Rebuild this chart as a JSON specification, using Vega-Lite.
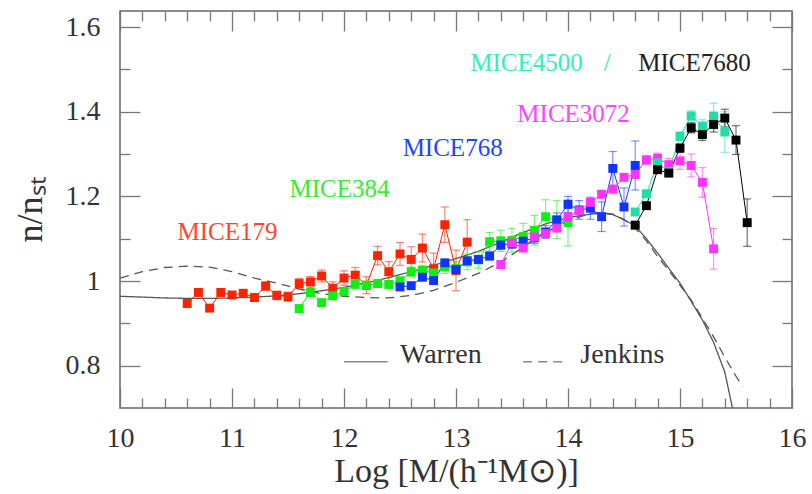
{
  "$schema": "https://vega.github.io/schema/vega-lite/v6.json",
  "autosize": {"type": "none"},
  "padding": {"left": 120, "top": 11, "right": 20, "bottom": 86},
  "width": 672,
  "height": 397,
  "background": "white",
  "config": {
    "view": {"stroke": "#666", "strokeWidth": 1.5},
    "font": "Liberation Serif",
    "axis": {"domain": false, "grid": false, "labelFont": "Liberation Serif", "titleFont": "Liberation Serif", "labelFontSize": 28, "titleFontSize": 34, "labelColor": "#333", "titleColor": "#333", "titleFontWeight": "normal", "tickColor": "#777", "tickWidth": 1.3, "zindex": 1}
  },
  "datasets": {
    "pts": [
      {"s": "MICE179", "x": 10.6, "y": 0.947, "e": 0.007},
      {"s": "MICE179", "x": 10.7, "y": 0.973, "e": 0.007},
      {"s": "MICE179", "x": 10.8, "y": 0.936, "e": 0.007},
      {"s": "MICE179", "x": 10.9, "y": 0.973, "e": 0.008},
      {"s": "MICE179", "x": 11.0, "y": 0.967, "e": 0.008},
      {"s": "MICE179", "x": 11.1, "y": 0.971, "e": 0.008},
      {"s": "MICE179", "x": 11.2, "y": 0.961, "e": 0.009},
      {"s": "MICE179", "x": 11.3, "y": 0.988, "e": 0.010},
      {"s": "MICE179", "x": 11.4, "y": 0.966, "e": 0.010},
      {"s": "MICE179", "x": 11.5, "y": 0.963, "e": 0.011},
      {"s": "MICE179", "x": 11.6, "y": 0.994, "e": 0.012},
      {"s": "MICE179", "x": 11.7, "y": 0.998, "e": 0.013},
      {"s": "MICE179", "x": 11.8, "y": 1.012, "e": 0.014},
      {"s": "MICE179", "x": 11.9, "y": 0.983, "e": 0.015},
      {"s": "MICE179", "x": 12.0, "y": 1.007, "e": 0.017},
      {"s": "MICE179", "x": 12.1, "y": 1.014, "e": 0.018},
      {"s": "MICE179", "x": 12.2, "y": 0.990, "e": 0.020},
      {"s": "MICE179", "x": 12.3, "y": 1.060, "e": 0.022},
      {"s": "MICE179", "x": 12.4, "y": 1.022, "e": 0.024},
      {"s": "MICE179", "x": 12.5, "y": 1.064, "e": 0.027},
      {"s": "MICE179", "x": 12.6, "y": 1.051, "e": 0.030},
      {"s": "MICE179", "x": 12.7, "y": 1.078, "e": 0.033},
      {"s": "MICE179", "x": 12.8, "y": 1.029, "e": 0.037},
      {"s": "MICE179", "x": 12.9, "y": 1.133, "e": 0.042},
      {"s": "MICE179", "x": 13.0, "y": 1.025, "e": 0.048},
      {"s": "MICE179", "x": 13.1, "y": 1.092, "e": 0.053},
      {"s": "MICE384", "x": 11.6, "y": 0.935, "e": 0.004},
      {"s": "MICE384", "x": 11.7, "y": 0.973, "e": 0.004},
      {"s": "MICE384", "x": 11.8, "y": 0.949, "e": 0.005},
      {"s": "MICE384", "x": 11.9, "y": 0.965, "e": 0.005},
      {"s": "MICE384", "x": 12.0, "y": 0.975, "e": 0.006},
      {"s": "MICE384", "x": 12.1, "y": 0.992, "e": 0.006},
      {"s": "MICE384", "x": 12.2, "y": 0.990, "e": 0.007},
      {"s": "MICE384", "x": 12.3, "y": 0.994, "e": 0.008},
      {"s": "MICE384", "x": 12.4, "y": 0.992, "e": 0.009},
      {"s": "MICE384", "x": 12.5, "y": 1.000, "e": 0.010},
      {"s": "MICE384", "x": 12.6, "y": 1.022, "e": 0.011},
      {"s": "MICE384", "x": 12.7, "y": 1.025, "e": 0.012},
      {"s": "MICE384", "x": 12.8, "y": 1.019, "e": 0.013},
      {"s": "MICE384", "x": 12.9, "y": 1.033, "e": 0.015},
      {"s": "MICE384", "x": 13.0, "y": 1.030, "e": 0.016},
      {"s": "MICE384", "x": 13.1, "y": 1.045, "e": 0.018},
      {"s": "MICE384", "x": 13.2, "y": 1.050, "e": 0.020},
      {"s": "MICE384", "x": 13.3, "y": 1.093, "e": 0.022},
      {"s": "MICE384", "x": 13.4, "y": 1.095, "e": 0.025},
      {"s": "MICE384", "x": 13.5, "y": 1.096, "e": 0.028},
      {"s": "MICE384", "x": 13.6, "y": 1.105, "e": 0.031},
      {"s": "MICE384", "x": 13.7, "y": 1.120, "e": 0.035},
      {"s": "MICE384", "x": 13.8, "y": 1.152, "e": 0.040},
      {"s": "MICE384", "x": 13.9, "y": 1.145, "e": 0.045},
      {"s": "MICE384", "x": 14.0, "y": 1.138, "e": 0.055},
      {"s": "MICE768", "x": 12.5, "y": 0.986, "e": 0.004},
      {"s": "MICE768", "x": 12.6, "y": 0.989, "e": 0.004},
      {"s": "MICE768", "x": 12.7, "y": 1.009, "e": 0.005},
      {"s": "MICE768", "x": 12.8, "y": 1.001, "e": 0.005},
      {"s": "MICE768", "x": 12.9, "y": 1.043, "e": 0.006},
      {"s": "MICE768", "x": 13.0, "y": 1.027, "e": 0.006},
      {"s": "MICE768", "x": 13.1, "y": 1.048, "e": 0.007},
      {"s": "MICE768", "x": 13.2, "y": 1.051, "e": 0.008},
      {"s": "MICE768", "x": 13.3, "y": 1.059, "e": 0.009},
      {"s": "MICE768", "x": 13.4, "y": 1.085, "e": 0.010},
      {"s": "MICE768", "x": 13.5, "y": 1.088, "e": 0.011},
      {"s": "MICE768", "x": 13.6, "y": 1.094, "e": 0.012},
      {"s": "MICE768", "x": 13.7, "y": 1.102, "e": 0.013},
      {"s": "MICE768", "x": 13.8, "y": 1.116, "e": 0.015},
      {"s": "MICE768", "x": 13.9, "y": 1.144, "e": 0.017},
      {"s": "MICE768", "x": 14.0, "y": 1.181, "e": 0.019},
      {"s": "MICE768", "x": 14.1, "y": 1.168, "e": 0.022},
      {"s": "MICE768", "x": 14.2, "y": 1.172, "e": 0.026},
      {"s": "MICE768", "x": 14.3, "y": 1.152, "e": 0.035},
      {"s": "MICE768", "x": 14.4, "y": 1.266, "e": 0.040},
      {"s": "MICE768", "x": 14.5, "y": 1.175, "e": 0.045},
      {"s": "MICE768", "x": 14.6, "y": 1.273, "e": 0.058},
      {"s": "MICE3072", "x": 13.4, "y": 1.039, "e": 0.004},
      {"s": "MICE3072", "x": 13.5, "y": 1.090, "e": 0.004},
      {"s": "MICE3072", "x": 13.6, "y": 1.078, "e": 0.004},
      {"s": "MICE3072", "x": 13.7, "y": 1.104, "e": 0.005},
      {"s": "MICE3072", "x": 13.8, "y": 1.112, "e": 0.005},
      {"s": "MICE3072", "x": 13.9, "y": 1.125, "e": 0.005},
      {"s": "MICE3072", "x": 14.0, "y": 1.152, "e": 0.006},
      {"s": "MICE3072", "x": 14.1, "y": 1.166, "e": 0.006},
      {"s": "MICE3072", "x": 14.2, "y": 1.186, "e": 0.007},
      {"s": "MICE3072", "x": 14.3, "y": 1.205, "e": 0.007},
      {"s": "MICE3072", "x": 14.4, "y": 1.217, "e": 0.008},
      {"s": "MICE3072", "x": 14.5, "y": 1.245, "e": 0.008},
      {"s": "MICE3072", "x": 14.6, "y": 1.252, "e": 0.009},
      {"s": "MICE3072", "x": 14.7, "y": 1.286, "e": 0.010},
      {"s": "MICE3072", "x": 14.8, "y": 1.290, "e": 0.012},
      {"s": "MICE3072", "x": 14.9, "y": 1.275, "e": 0.015},
      {"s": "MICE3072", "x": 15.0, "y": 1.284, "e": 0.020},
      {"s": "MICE3072", "x": 15.1, "y": 1.273, "e": 0.027},
      {"s": "MICE3072", "x": 15.2, "y": 1.233, "e": 0.035},
      {"s": "MICE3072", "x": 15.3, "y": 1.076, "e": 0.048},
      {"s": "MICE4500", "x": 14.6, "y": 1.163, "e": 0.005},
      {"s": "MICE4500", "x": 14.7, "y": 1.206, "e": 0.006},
      {"s": "MICE4500", "x": 14.8, "y": 1.279, "e": 0.008},
      {"s": "MICE4500", "x": 14.9, "y": 1.259, "e": 0.008},
      {"s": "MICE4500", "x": 15.0, "y": 1.342, "e": 0.010},
      {"s": "MICE4500", "x": 15.1, "y": 1.390, "e": 0.012},
      {"s": "MICE4500", "x": 15.2, "y": 1.366, "e": 0.015},
      {"s": "MICE4500", "x": 15.3, "y": 1.390, "e": 0.030},
      {"s": "MICE4500", "x": 15.4, "y": 1.352, "e": 0.048},
      {"s": "MICE7680", "x": 14.6, "y": 1.132, "e": 0.004},
      {"s": "MICE7680", "x": 14.7, "y": 1.178, "e": 0.005},
      {"s": "MICE7680", "x": 14.8, "y": 1.263, "e": 0.006},
      {"s": "MICE7680", "x": 14.9, "y": 1.255, "e": 0.008},
      {"s": "MICE7680", "x": 15.0, "y": 1.314, "e": 0.010},
      {"s": "MICE7680", "x": 15.1, "y": 1.362, "e": 0.012},
      {"s": "MICE7680", "x": 15.2, "y": 1.346, "e": 0.014},
      {"s": "MICE7680", "x": 15.3, "y": 1.370, "e": 0.018},
      {"s": "MICE7680", "x": 15.4, "y": 1.385, "e": 0.021},
      {"s": "MICE7680", "x": 15.5, "y": 1.333, "e": 0.034},
      {"s": "MICE7680", "x": 15.6, "y": 1.138, "e": 0.056}
    ],
    "curves": [
      {"m": "Warren", "x": 10.0, "y": 0.964}, {"m": "Warren", "x": 10.2, "y": 0.962}, {"m": "Warren", "x": 10.4, "y": 0.960},
      {"m": "Warren", "x": 10.6, "y": 0.959}, {"m": "Warren", "x": 10.8, "y": 0.959}, {"m": "Warren", "x": 11.0, "y": 0.960},
      {"m": "Warren", "x": 11.2, "y": 0.962}, {"m": "Warren", "x": 11.4, "y": 0.965}, {"m": "Warren", "x": 11.6, "y": 0.970},
      {"m": "Warren", "x": 11.8, "y": 0.977}, {"m": "Warren", "x": 12.0, "y": 0.985}, {"m": "Warren", "x": 12.2, "y": 0.996},
      {"m": "Warren", "x": 12.4, "y": 1.008}, {"m": "Warren", "x": 12.6, "y": 1.022}, {"m": "Warren", "x": 12.8, "y": 1.037},
      {"m": "Warren", "x": 13.0, "y": 1.053}, {"m": "Warren", "x": 13.2, "y": 1.070}, {"m": "Warren", "x": 13.4, "y": 1.092},
      {"m": "Warren", "x": 13.6, "y": 1.115}, {"m": "Warren", "x": 13.8, "y": 1.135}, {"m": "Warren", "x": 14.0, "y": 1.150},
      {"m": "Warren", "x": 14.2, "y": 1.158}, {"m": "Warren", "x": 14.3, "y": 1.160}, {"m": "Warren", "x": 14.4, "y": 1.157},
      {"m": "Warren", "x": 14.5, "y": 1.145}, {"m": "Warren", "x": 14.6, "y": 1.130}, {"m": "Warren", "x": 14.7, "y": 1.100},
      {"m": "Warren", "x": 14.8, "y": 1.066}, {"m": "Warren", "x": 14.9, "y": 1.030}, {"m": "Warren", "x": 15.0, "y": 0.995},
      {"m": "Warren", "x": 15.1, "y": 0.952}, {"m": "Warren", "x": 15.2, "y": 0.908}, {"m": "Warren", "x": 15.3, "y": 0.855},
      {"m": "Warren", "x": 15.4, "y": 0.785}, {"m": "Warren", "x": 15.47, "y": 0.698},
      {"m": "Jenkins", "x": 10.0, "y": 1.007}, {"m": "Jenkins", "x": 10.2, "y": 1.022}, {"m": "Jenkins", "x": 10.4, "y": 1.032},
      {"m": "Jenkins", "x": 10.6, "y": 1.035}, {"m": "Jenkins", "x": 10.8, "y": 1.033}, {"m": "Jenkins", "x": 11.0, "y": 1.022},
      {"m": "Jenkins", "x": 11.2, "y": 1.007}, {"m": "Jenkins", "x": 11.4, "y": 0.995}, {"m": "Jenkins", "x": 11.6, "y": 0.981},
      {"m": "Jenkins", "x": 11.8, "y": 0.970}, {"m": "Jenkins", "x": 12.0, "y": 0.964}, {"m": "Jenkins", "x": 12.2, "y": 0.961},
      {"m": "Jenkins", "x": 12.4, "y": 0.960}, {"m": "Jenkins", "x": 12.6, "y": 0.966}, {"m": "Jenkins", "x": 12.8, "y": 0.978},
      {"m": "Jenkins", "x": 13.0, "y": 0.997}, {"m": "Jenkins", "x": 13.2, "y": 1.018}, {"m": "Jenkins", "x": 13.4, "y": 1.045},
      {"m": "Jenkins", "x": 13.6, "y": 1.080}, {"m": "Jenkins", "x": 13.8, "y": 1.115}, {"m": "Jenkins", "x": 14.0, "y": 1.142},
      {"m": "Jenkins", "x": 14.2, "y": 1.160}, {"m": "Jenkins", "x": 14.3, "y": 1.162}, {"m": "Jenkins", "x": 14.4, "y": 1.158},
      {"m": "Jenkins", "x": 14.5, "y": 1.145}, {"m": "Jenkins", "x": 14.6, "y": 1.125}, {"m": "Jenkins", "x": 14.7, "y": 1.095},
      {"m": "Jenkins", "x": 14.8, "y": 1.058}, {"m": "Jenkins", "x": 14.9, "y": 1.025}, {"m": "Jenkins", "x": 15.0, "y": 0.990},
      {"m": "Jenkins", "x": 15.1, "y": 0.955}, {"m": "Jenkins", "x": 15.2, "y": 0.912}, {"m": "Jenkins", "x": 15.3, "y": 0.868},
      {"m": "Jenkins", "x": 15.4, "y": 0.820}, {"m": "Jenkins", "x": 15.5, "y": 0.775}, {"m": "Jenkins", "x": 15.56, "y": 0.751}
    ],
    "labels": [
      {"t": "MICE179", "x": 10.96, "y": 1.117, "c": "#ff4433"},
      {"t": "MICE384", "x": 11.96, "y": 1.217, "c": "#33ee33"},
      {"t": "MICE768", "x": 12.97, "y": 1.315, "c": "#2244ff"},
      {"t": "MICE3072", "x": 14.05, "y": 1.395, "c": "#ff44ff"},
      {"t": "MICE4500", "x": 13.63, "y": 1.516, "c": "#33eebb"},
      {"t": "/", "x": 14.35, "y": 1.516, "c": "#33eebb"},
      {"t": "MICE7680", "x": 15.13, "y": 1.516, "c": "#222222"}
    ],
    "legend": [
      {"m": "Warren", "x": 12.0, "x2": 12.39, "y": 0.809, "tx": 12.5, "ty": 0.825},
      {"m": "Jenkins", "x": 13.6, "x2": 14.0, "y": 0.809, "tx": 14.11, "ty": 0.825}
    ]
  },
  "resolve": {"axis": {"x": "independent", "y": "independent"}},
  "layer": [
    {
      "data": {"name": "curves"},
      "mark": {"type": "line", "color": "#555", "strokeWidth": 1.3, "clip": true},
      "encoding": {
        "x": {"field": "x", "type": "quantitative", "scale": {"domain": [10, 16], "nice": false, "zero": false},
          "axis": {"orient": "bottom", "values": [10,10.2,10.4,10.6,10.8,11,11.2,11.4,11.6,11.8,12,12.2,12.4,12.6,12.8,13,13.2,13.4,13.6,13.8,14,14.2,14.4,14.6,14.8,15,15.2,15.4,15.6,15.8,16],
            "tickSize": -20,
            "tickDash": {"condition": {"test": "abs(datum.value - round(datum.value)) < 0.001", "value": [20, 0]}, "value": [10, 30]},
            "labelExpr": "abs(datum.value - round(datum.value)) < 0.001 ? format(datum.value, 'd') : ''",
            "labelOverlap": false, "labelFlush": false, "labelBound": false, "labelFont": "Liberation Serif", "labelFontSize": 28, "labelPadding": 36,
            "title": "Log [M/(h⁻¹M⊙)]", "titleFont": "Liberation Serif", "titleFontSize": 34, "titlePadding": 2}},
        "y": {"field": "y", "type": "quantitative", "scale": {"domain": [0.7, 1.638], "nice": false, "zero": false},
          "axis": {"orient": "left", "values": [0.8,0.9,1.0,1.1,1.2,1.3,1.4,1.5,1.6],
            "tickSize": -20,
            "tickDash": {"condition": {"test": "abs(datum.value*5 - round(datum.value*5)) < 0.001", "value": [20, 0]}, "value": [10, 30]},
            "labelExpr": "abs(datum.value*5 - round(datum.value*5)) < 0.001 ? format(datum.value, '~g') : ''",
            "labelOverlap": false, "labelFlush": false, "labelBound": false, "labelFont": "Liberation Serif", "labelFontSize": 28, "labelPadding": 40,
            "title": "n/nₛₜ", "titleFont": "Liberation Serif", "titleFontSize": 36, "titlePadding": 16}},
        "strokeDash": {"field": "m", "type": "nominal", "scale": {"domain": ["Warren", "Jenkins"], "range": [[1, 0], [9, 6]]}, "legend": null}
      }
    },
    {
      "data": {"name": "pts"},
      "mark": {"type": "errorbar", "ticks": {"size": 8}, "thickness": 1.2, "opacity": 0.55},
      "encoding": {
        "x": {"field": "x", "type": "quantitative", "axis": null},
        "y": {"field": "y", "type": "quantitative", "axis": null},
        "yError": {"field": "e"},
        "color": {"field": "s", "type": "nominal", "legend": null,
          "scale": {"domain": ["MICE179", "MICE384", "MICE768", "MICE3072", "MICE4500", "MICE7680"], "range": ["#ff2200", "#11ee11", "#1133ff", "#ff33ff", "#22ddaa", "#000000"]}}
      }
    },
    {
      "data": {"name": "pts"},
      "mark": {"type": "line", "strokeWidth": 1},
      "encoding": {
        "x": {"field": "x", "type": "quantitative", "axis": null},
        "y": {"field": "y", "type": "quantitative", "axis": null},
        "color": {"field": "s", "type": "nominal", "legend": null}
      }
    },
    {
      "data": {"name": "pts"},
      "mark": {"type": "square", "size": 80, "opacity": 1, "filled": true},
      "encoding": {
        "x": {"field": "x", "type": "quantitative", "axis": null},
        "y": {"field": "y", "type": "quantitative", "axis": null},
        "color": {"field": "s", "type": "nominal", "legend": null}
      }
    },
    {
      "data": {"name": "legend"},
      "mark": {"type": "rule", "color": "#888", "strokeWidth": 1.5},
      "encoding": {
        "x": {"field": "x", "type": "quantitative", "axis": null},
        "x2": {"field": "x2"},
        "y": {"field": "y", "type": "quantitative", "axis": null},
        "strokeDash": {"field": "m", "type": "nominal", "legend": null}
      }
    },
    {
      "data": {"name": "legend"},
      "mark": {"type": "text", "align": "left", "baseline": "middle", "fontSize": 28, "color": "#333", "font": "Liberation Serif"},
      "encoding": {
        "x": {"field": "tx", "type": "quantitative", "axis": null},
        "y": {"field": "ty", "type": "quantitative", "axis": null},
        "text": {"field": "m"}
      }
    },
    {
      "data": {"name": "labels"},
      "mark": {"type": "text", "align": "center", "baseline": "middle", "fontSize": 25, "font": "Liberation Serif"},
      "encoding": {
        "x": {"field": "x", "type": "quantitative",
          "axis": {"orient": "top", "values": [10,10.2,10.4,10.6,10.8,11,11.2,11.4,11.6,11.8,12,12.2,12.4,12.6,12.8,13,13.2,13.4,13.6,13.8,14,14.2,14.4,14.6,14.8,15,15.2,15.4,15.6,15.8,16],
            "tickSize": -20,
            "tickDash": {"condition": {"test": "abs(datum.value - round(datum.value)) < 0.001", "value": [20, 0]}, "value": [10, 30]},
            "labels": false, "title": null}},
        "y": {"field": "y", "type": "quantitative",
          "axis": {"orient": "right", "values": [0.8,0.9,1.0,1.1,1.2,1.3,1.4,1.5,1.6],
            "tickSize": -20,
            "tickDash": {"condition": {"test": "abs(datum.value*5 - round(datum.value*5)) < 0.001", "value": [20, 0]}, "value": [10, 30]},
            "labels": false, "title": null}},
        "text": {"field": "t"},
        "color": {"field": "c", "type": "nominal", "scale": null}
      }
    }
  ]
}
